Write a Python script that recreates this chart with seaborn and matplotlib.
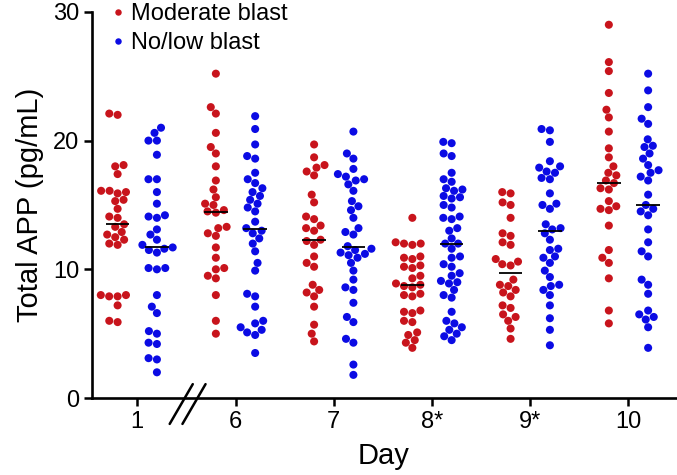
import matplotlib
matplotlib.use("Agg")
import matplotlib.pyplot as plt
import pandas as pd
import seaborn as sns

# ---------------------------------------------------------------------------
# data
# ---------------------------------------------------------------------------
days = ["1", "6", "7", "8*", "9*", "10"]
groups = ["Moderate blast", "No/low blast"]
colors = ["#C8141C", "#0B0BE4"]

moderate_day1 = [22.1, 22.0, 18.1, 18.0, 17.4, 16.1, 16.0, 16.1, 15.9, 15.4,
                 15.3, 14.7, 14.0, 14.1, 13.5, 13.3, 12.9, 12.7, 12.5, 12.3,
                 12.0, 11.9, 8.0, 8.0, 7.9, 7.9, 7.2, 6.0, 5.9]
moderate_day6 = [25.2, 22.6, 22.1, 20.6, 19.5, 19.0, 18.0, 16.9, 16.2, 15.6,
                 15.1, 15.0, 14.6, 14.5, 14.4, 13.3, 13.2, 12.8, 12.6, 11.7,
                 10.9, 10.1, 10.0, 9.5, 9.3, 8.0, 6.0, 5.0]
moderate_day7 = [19.7, 18.7, 18.1, 17.9, 17.6, 17.3, 15.8, 15.2, 14.1, 13.9,
                 13.4, 13.2, 13.0, 12.3, 12.2, 11.9, 11.0, 10.5, 10.2, 8.8,
                 8.4, 8.2, 7.9, 7.1, 5.7, 5.0, 4.4]
moderate_day8 = [14.0, 12.1, 12.0, 11.9, 12.0, 11.0, 10.9, 10.8, 10.3, 10.2,
                 10.1, 9.5, 9.3, 8.9, 8.8, 8.7, 8.6, 8.1, 8.0, 7.9,
                 6.8, 6.7, 6.6, 6.0, 5.9, 5.1, 4.9, 4.5, 4.3, 3.9]
moderate_day9 = [16.0, 15.9, 15.2, 15.0, 14.0, 12.8, 12.6, 12.1, 11.9, 10.8,
                 10.6, 10.3, 10.4, 9.2, 8.8, 8.7, 8.4, 8.2, 7.9, 7.2,
                 7.0, 6.5, 6.3, 6.0, 5.4, 4.6]
moderate_day10 = [29.0, 26.1, 25.4, 23.7, 22.4, 21.8, 20.7, 19.4, 18.7, 18.0,
                  17.5, 17.3, 16.9, 16.7, 16.3, 16.2, 15.3, 14.9, 14.7, 14.6,
                  13.4, 11.5, 10.9, 10.5, 9.3, 6.8, 5.8]

nolow_day1 = [21.0, 20.6, 20.0, 20.0, 18.9, 17.0, 17.0, 16.0, 15.1, 14.2,
              14.1, 14.0, 13.1, 12.7, 12.3, 11.9, 11.7, 11.6, 11.5, 11.3,
              10.1, 10.1, 10.0, 8.0, 7.1, 6.6, 5.2, 5.0, 4.3, 4.2,
              3.1, 3.0, 2.0]
nolow_day6 = [21.9, 20.9, 19.7, 18.8, 18.6, 17.5, 17.0, 16.7, 16.3, 16.0,
              15.7, 15.4, 15.1, 14.8, 14.5, 13.7, 13.2, 13.0, 12.8, 12.4,
              12.0, 11.4, 10.5, 9.9, 8.1, 7.9, 7.1, 6.0, 5.8, 5.5,
              5.3, 5.1, 4.9, 3.5]
nolow_day7 = [20.7, 19.0, 18.6, 17.8, 17.4, 17.2, 17.0, 16.9, 16.6, 16.1,
              15.3, 14.9, 14.6, 14.0, 13.2, 12.9, 12.7, 11.8, 11.6, 11.5,
              11.3, 11.2, 11.1, 10.9, 10.5, 9.9, 9.2, 8.6, 8.4, 7.4,
              6.3, 5.9, 4.6, 4.3, 2.6, 1.8]
nolow_day8 = [19.9, 19.8, 19.0, 18.8, 17.5, 17.0, 16.8, 16.3, 16.2, 16.1,
              15.7, 15.6, 15.5, 15.0, 14.8, 14.1, 14.0, 13.9, 13.2, 13.0,
              12.4, 12.0, 12.0, 11.6, 11.0, 10.9, 10.4, 10.2, 9.7, 9.5,
              9.1, 9.0, 8.9, 8.4, 8.0, 7.8, 6.7, 6.0, 5.8, 5.5,
              5.3, 5.0, 4.8, 4.5]
nolow_day9 = [20.9, 20.8, 19.9, 18.4, 18.0, 17.9, 17.6, 17.5, 17.1, 17.0,
              15.9, 15.1, 15.0, 14.7, 13.5, 13.2, 13.1, 12.8, 12.3, 11.6,
              11.5, 11.0, 10.9, 10.5, 9.9, 9.4, 8.8, 8.7, 8.4, 8.0,
              7.2, 6.2, 5.3, 4.1]
nolow_day10 = [25.2, 23.9, 22.6, 21.7, 21.3, 20.1, 19.6, 19.5, 19.0, 18.6,
               18.1, 17.7, 17.5, 17.2, 16.9, 15.8, 15.0, 14.7, 14.5, 14.2,
               13.1, 12.1, 11.4, 11.0, 9.2, 8.8, 8.1, 6.8, 6.5, 6.3,
               6.1, 5.5, 3.9]

moderate = [moderate_day1, moderate_day6, moderate_day7,
            moderate_day8, moderate_day9, moderate_day10]
nolow = [nolow_day1, nolow_day6, nolow_day7,
         nolow_day8, nolow_day9, nolow_day10]

rows = []
for day, mod, low in zip(days, moderate, nolow):
    rows += [(day, groups[0], v) for v in mod]
    rows += [(day, groups[1], v) for v in low]
df = pd.DataFrame(rows, columns=["Day", "Group", "APP"])

# ---------------------------------------------------------------------------
# figure
# ---------------------------------------------------------------------------
sns.set_style("ticks")
plt.rcParams["font.family"] = ["Liberation Sans", "DejaVu Sans"]
plt.rcParams["text.color"] = "black"
plt.rcParams["axes.labelcolor"] = "black"

fig = plt.figure(figsize=(6.77, 4.75), dpi=100)
ax = fig.add_axes([0.136, 0.162, 0.862, 0.813])

sns.swarmplot(
    data=df, x="Day", y="APP", hue="Group", order=days, hue_order=groups,
    palette=colors, dodge=True, size=5.8, linewidth=0, ax=ax,
)
# median bars
sns.boxplot(
    data=df, x="Day", y="APP", hue="Group", order=days, hue_order=groups,
    dodge=True, width=0.8, gap=0.4, showbox=False, showcaps=False,
    showfliers=False, whiskerprops={"visible": False},
    medianprops={"color": "black", "linewidth": 1.3, "zorder": 5},
    legend=False, ax=ax,
)

ax.set_xlim(-0.46, 5.48)
ax.set_ylim(0, 30)
ax.set_yticks([0, 10, 20, 30])
ax.set_xlabel("Day", fontsize=21, labelpad=7)
ax.set_ylabel("Total APP (pg/mL)", fontsize=21, labelpad=7)
ax.tick_params(axis="both", labelsize=17, width=1.8, length=6,
               color="black", labelcolor="black", pad=3)
for side in ["left", "bottom"]:
    ax.spines[side].set_linewidth(1.9)
    ax.spines[side].set_color("black")
sns.despine(ax=ax)

# axis break marks between day 1 and day 6
tr = ax.get_xaxis_transform()
for x0 in [0.33, 0.46]:
    ax.plot([x0, x0 + 0.235], [-0.067, 0.036], transform=tr,
            color="black", lw=1.8, clip_on=False)

leg = ax.legend(
    loc="upper left", bbox_to_anchor=(0.148, 1.018), bbox_transform=fig.transFigure,
    frameon=False, fontsize=17, handlelength=0.5, handletextpad=0.3,
    borderpad=0, labelspacing=0.3, markerscale=0.8,
)

fig.savefig("out.png", dpi=100)
